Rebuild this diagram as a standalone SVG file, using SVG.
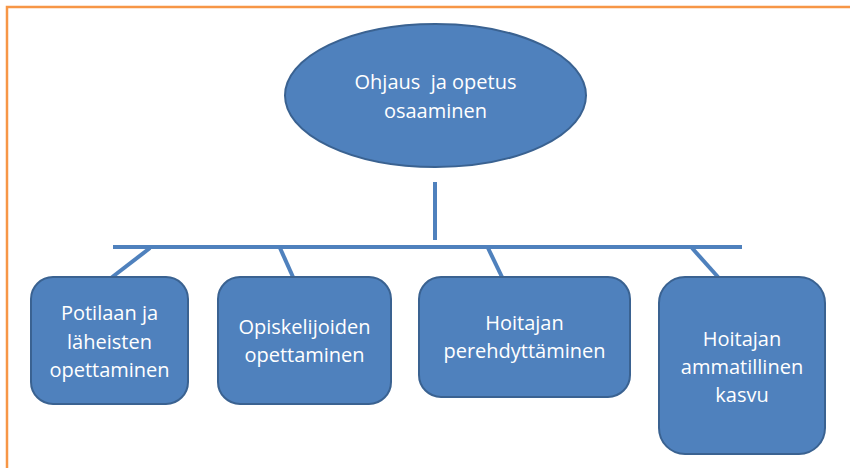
<svg xmlns="http://www.w3.org/2000/svg" width="850" height="468" viewBox="0 0 850 468">
<style>
.shape{fill:#4F81BD;stroke:#3A6291;stroke-width:2}
.conn{stroke:#4F81BD;stroke-width:4;fill:none}
.t{font-family:"Open Sans","Liberation Sans",sans-serif;font-size:20px;fill:#FFFFFF;text-anchor:middle;white-space:pre}
</style>
<rect width="850" height="468" fill="#FFFFFF"/>
<path d="M7,468 V7 H850" fill="none" stroke="#F79646" stroke-width="2.5"/>
<g id="connectors">
<line class="conn" x1="435" y1="182" x2="435" y2="240"/>
<line class="conn" x1="113" y1="247" x2="742" y2="247"/>
<line class="conn" x1="150" y1="248" x2="111" y2="278"/>
<line class="conn" x1="280" y1="248" x2="293" y2="277"/>
<line class="conn" x1="488" y1="248" x2="502" y2="277"/>
<line class="conn" x1="692" y1="248" x2="718" y2="277"/>
</g>
<g id="root">
<ellipse class="shape" cx="435.5" cy="95.5" rx="150.5" ry="71.5"/>
<text class="t" x="435.5" y="89">Ohjaus  ja opetus</text>
<text class="t" x="435.5" y="118">osaaminen</text>
</g>
<g id="n1">
<rect class="shape" x="31" y="277" width="157" height="127" rx="22"/>
<text class="t" x="109.5" y="320">Potilaan ja</text>
<text class="t" x="109.5" y="349">läheisten</text>
<text class="t" x="109.5" y="377">opettaminen</text>
</g>
<g id="n2">
<rect class="shape" x="218" y="277" width="173" height="127" rx="22"/>
<text class="t" x="304.5" y="334">Opiskelijoiden</text>
<text class="t" x="304.5" y="362">opettaminen</text>
</g>
<g id="n3">
<rect class="shape" x="419" y="277" width="211" height="120" rx="22"/>
<text class="t" x="524.5" y="330">Hoitajan</text>
<text class="t" x="524.5" y="358">perehdyttäminen</text>
</g>
<g id="n4">
<rect class="shape" x="659" y="277" width="166" height="177" rx="26"/>
<text class="t" x="742" y="346">Hoitajan</text>
<text class="t" x="742" y="374">ammatillinen</text>
<text class="t" x="742" y="402">kasvu</text>
</g>
</svg>
